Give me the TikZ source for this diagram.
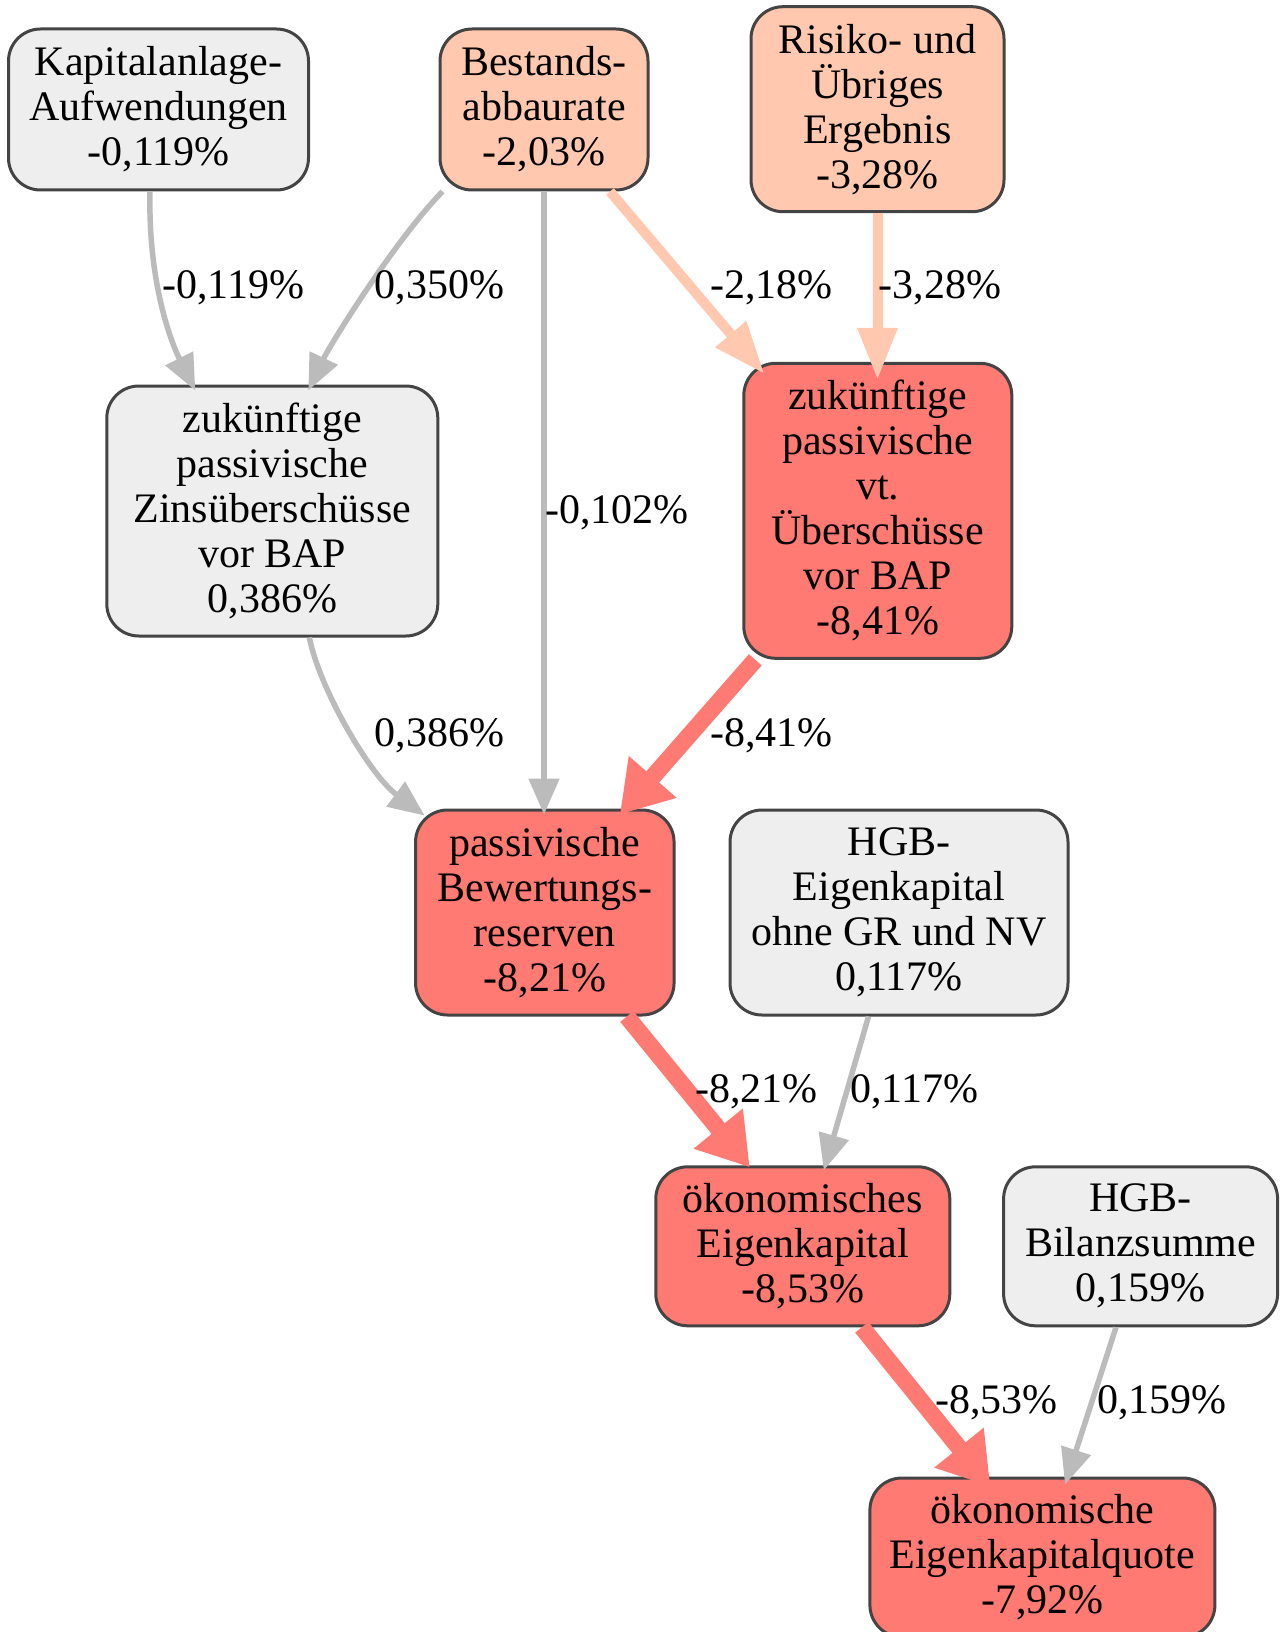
\documentclass[tikz,border=0pt]{standalone}
\usepackage{fontspec}
\setmainfont{Liberation Serif}
\usetikzlibrary{arrows.meta,calc}
\definecolor{boxgray}{HTML}{EEEEEE}
\definecolor{boxsalmon}{HTML}{FFC8AF}
\definecolor{boxred}{HTML}{FF7A72}
\definecolor{bordergray}{HTML}{444444}
\definecolor{edgegray}{HTML}{BBBBBB}
\tikzset{
  box/.style={draw=bordergray, line width=3pt, rounded corners=32pt, align=center,
    inner sep=0pt, font=\fontsize{42}{45}\selectfont},
  graybox/.style={box, fill=boxgray},
  salmonbox/.style={box, fill=boxsalmon},
  redbox/.style={box, fill=boxred},
  grayedge/.style={draw=edgegray, line width=5.5pt, -{Triangle[length=36pt,width=30pt]}},
  salmonedge/.style={draw=boxsalmon, line width=10pt, -{Triangle[length=52pt,width=38pt]}},
  rededge/.style={draw=boxred, line width=17pt, -{Triangle[length=50pt,width=60pt]}},
  elabel/.style={anchor=base west, inner sep=0pt, font=\fontsize{42}{45}\selectfont}
}
\begin{document}
\begin{tikzpicture}[x=1pt,y=-1pt]
\useasboundingbox (0,0) rectangle (1279,1632);
\clip (0,0) rectangle (1279,1632);
% nodes
\node[graybox, minimum width=300pt, minimum height=161pt] (kap) at (158.5,109.5) {Kapitalanlage-\\Aufwendungen\\-0,119\%};
\node[salmonbox, minimum width=208pt, minimum height=161pt] (best) at (544,109.5) {Bestands-\\abbaurate\\-2,03\%};
\node[salmonbox, minimum width=253pt, minimum height=205pt] (ris) at (877.5,109.2) {Risiko- und\\Übriges\\Ergebnis\\-3,28\%};
\node[graybox, minimum width=331pt, minimum height=250pt] (zins) at (272.3,511) {zukünftige\\passivische\\Zinsüberschüsse\\vor BAP\\0,386\%};
\node[redbox, minimum width=268pt, minimum height=295pt] (vt) at (877.8,510.8) {zukünftige\\passivische\\vt.\\Überschüsse\\vor BAP\\-8,41\%};
\node[redbox, minimum width=258.5pt, minimum height=205pt] (pbr) at (544.8,912.5) {passivische\\Bewertungs-\\reserven\\-8,21\%};
\node[graybox, minimum width=338pt, minimum height=205pt] (hgbek) at (899,912.5) {HGB-\\Eigenkapital\\ohne GR und NV\\0,117\%};
\node[redbox, minimum width=294pt, minimum height=159pt] (okek) at (802.8,1246.3) {ökonomisches\\Eigenkapital\\-8,53\%};
\node[graybox, minimum width=274pt, minimum height=159pt] (bil) at (1140.6,1246.3) {HGB-\\Bilanzsumme\\0,159\%};
\node[redbox, minimum width=345pt, minimum height=159pt] (ekq) at (1042.4,1557.5) {ökonomische\\Eigenkapitalquote\\-7,92\%};
% edges
\draw[grayedge] ($(kap.south)+(-8.5,0)$) .. controls (148,280) and (170,340) .. ($(zins.north)+(-77,6)$);
\draw[grayedge] ($(best.south west)+(4,0)$) .. controls (395,240) and (330,345) .. ($(zins.north)+(36,6)$);
\draw[grayedge] (best.south) -- ($(best.south |- pbr.north)+(0,6)$);
\draw[salmonedge] ($(best.south)+(66,0)$) -- ($(vt.north west)+(22,12)$);
\draw[salmonedge] (ris.south) -- ($(ris.south |- vt.north)+(0,18)$);
\draw[grayedge] ($(zins.south)+(37,0)$) .. controls (320,690) and (370,775) .. ($(pbr.north west)+(10.5,7)$);
\draw[rededge] ($(vt.south west)+(13,0)$) -- ($(pbr.north)+(75,6)$);
\draw[rededge] ($(pbr.south)+(82,0)$) -- ($(okek.north)+(-53,2)$);
\draw[grayedge] ($(hgbek.south)+(-30.5,0)$) -- ($(okek.north)+(21,5)$);
\draw[rededge] ($(okek.south)+(59,0)$) -- ($(ekq.north)+(-52,10)$);
\draw[grayedge] ($(bil.south)+(-24.6,0)$) -- ($(ekq.north)+(22.6,8)$);
% edge labels
\node[elabel] (l1) at (162,298) {-0,119\%};
\node[elabel] (l2) at (374.6,298) {0,350\%};
\node[elabel] (l3) at (710,298) {-2,18\%};
\node[elabel] (l4) at (878.4,298) {-3,28\%};
\node[elabel] (l5) at (545,523) {-0,102\%};
\node[elabel] (l6) at (374.7,746) {0,386\%};
\node[elabel] (l7) at (710,746) {-8,41\%};
\node[elabel] (l8) at (695,1102) {-8,21\%};
\node[elabel] (l9) at (850,1102) {0,117\%};
\node[elabel] (l10) at (935,1413) {-8,53\%};
\node[elabel] (l11) at (1097,1413) {0,159\%};
\end{tikzpicture}
\end{document}
